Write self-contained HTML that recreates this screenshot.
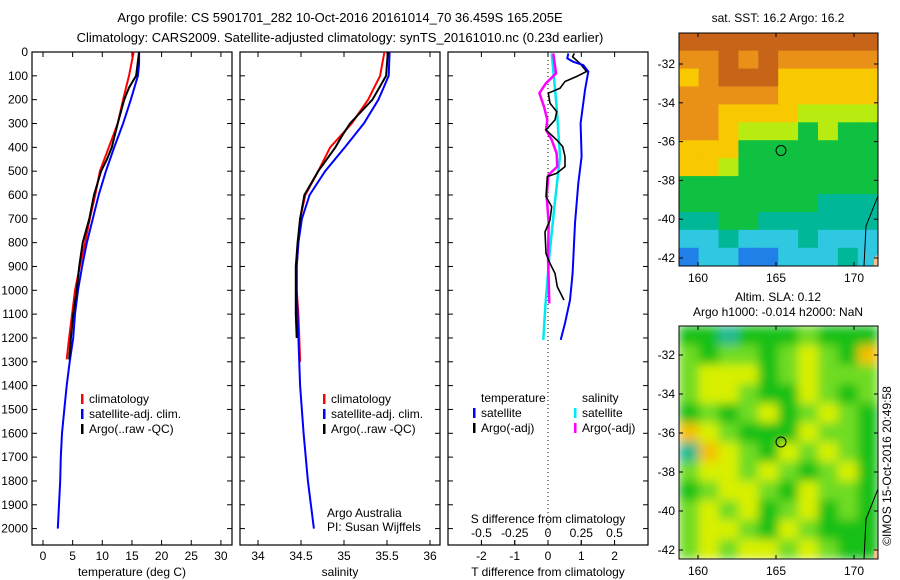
<!DOCTYPE html>
<html><head><meta charset="utf-8"><style>
html,body{margin:0;padding:0;background:#fff;}
svg{display:block;font-family:"Liberation Sans",sans-serif;}
</style></head><body>
<svg id="fig" width="900" height="580" viewBox="0 0 900 580" xmlns="http://www.w3.org/2000/svg">
<defs><filter id="blur" x="0" y="0" width="1" height="1"><feGaussianBlur stdDeviation="5"/></filter>
<clipPath id="c2"><rect x="679" y="326" width="199" height="233"/></clipPath></defs>
<text x="340" y="22" font-size="13" text-anchor="middle">Argo profile: CS 5901701_282 10-Oct-2016 20161014_70 36.459S 165.205E</text>
<text x="340" y="42" font-size="13" text-anchor="middle">Climatology: CARS2009. Satellite-adjusted climatology: synTS_20161010.nc (0.23d earlier)</text>
<g id="g"></g>
</svg>
<script>
// ---- data ----
const tClimD=[0,100,150,200,300,400,500,600,700,800,900,1000,1100,1200,1290];
const tClimV=[15.3,14.5,14.0,13.5,12.6,11.1,9.6,8.8,7.9,7.1,6.2,5.4,4.9,4.4,4.0];
const tArgoD=[0,100,150,200,300,400,450,500,600,700,800,900,1000,1100,1200,1290];
const tArgoV=[16.2,15.7,14.5,13.7,12.6,11.6,10.8,9.8,8.6,7.8,6.7,6.1,5.7,5.1,4.7,4.4];
const tSatD=[0,50,100,200,300,400,500,600,700,800,900,1000,1100,1200,1300,1400,1500,1600,1700,1800,1900,2000];
const tSatV=[16.2,16.2,16.0,14.8,13.5,12.0,10.6,9.4,8.4,7.4,6.6,5.9,5.4,5.1,4.5,4.0,3.6,3.2,3.0,2.9,2.7,2.5];
const sClimD=[0,100,200,300,400,500,600,700,800,900,1000,1100,1200,1300];
const sClimV=[35.47,35.42,35.28,35.09,34.84,34.70,34.55,34.49,34.47,34.45,34.45,34.47,34.48,34.49];
const sArgoD=[0,100,200,300,350,400,500,600,700,800,900,1000,1100,1200];
const sArgoV=[35.51,35.49,35.33,35.07,34.98,34.90,34.70,34.54,34.49,34.46,34.44,34.44,34.44,34.45];
const sSatD=[0,100,200,300,400,500,600,700,800,900,1000,1200,1400,1600,1800,2000];
const sSatV=[35.53,35.52,35.40,35.23,35.01,34.78,34.60,34.51,34.47,34.45,34.45,34.47,34.49,34.53,34.58,34.65];
const dTArgoD=[6,20,48,82,103,124,152,173,215,250,285,327,369,397,439,481,509,523,607,649,705,755,845,887,929,985,1041];
const dTArgoV=[0.79,0.74,0.96,1.16,0.86,0.51,0.36,0.01,0.06,0.26,0.21,-0.06,0.26,0.44,0.51,0.51,0.26,-0.02,-0.06,0.11,0.06,-0.09,-0.06,0.06,0.21,0.28,0.48];
const dTSatD=[6,27,41,55,82,160,299,439,551,719,929,1041,1138,1208];
const dTSatV=[0.61,0.58,0.76,1.06,1.21,1.11,0.98,1.01,0.91,0.81,0.74,0.66,0.51,0.38];
const dSArgoD=[6,90,131,173,229,285,327,369,425,481,516,607,719,859,1055];
const dSArgoV=[0.040,0.060,-0.015,-0.065,-0.03,-0.005,-0.015,0.028,0.065,0.07,0.003,-0.01,0.005,0,0.01];
const dSSatD=[6,229,439,649,859,1069,1208];
const dSSatV=[0.028,0.065,0.09,0.048,0.01,-0.02,-0.035];
const depthTicks=[0,100,200,300,400,500,600,700,800,900,1000,1100,1200,1300,1400,1500,1600,1700,1800,1900,2000];
const tTicks=[0,5,10,15,20,25,30];
const sTicks=[34,34.5,35,35.5,36];
const sTickLabels=['34','34.5','35','35.5','36'];
const dtTicks=[-2,-1,0,1,2];
const dsTicks=[-0.5,-0.25,0,0.25,0.5];
const dsTickLabels=['-0.5','-0.25','0','0.25','0.5'];
// ---- scales ----
const TOP=52,BOT=545;
const yD=d=>52+d*0.2383;
const xT=v=>43+v*5.93;
const xS=v=>258+(v-34)*86;
const xDT=v=>548+v*33.3;
const xDS=v=>548+v*133;
const NS='http://www.w3.org/2000/svg';
const G=document.getElementById('g');
function mk(tag,attrs,parent){const e=document.createElementNS(NS,tag);for(const k in attrs)e.setAttribute(k,attrs[k]);(parent||G).appendChild(e);return e;}
function txt(x,y,s,size,anchor,name){const e=mk('text',{x:x,y:y,'font-size':size,'text-anchor':anchor});e.textContent=s;


return e;}
function line(xs,ys,color,w,name){const pts=xs.map((x,i)=>x.toFixed(1)+','+ys[i].toFixed(1)).join(' ');
const e=mk('polyline',{points:pts,fill:'none',stroke:color,'stroke-width':w,'stroke-linejoin':'miter'});

}
function panel(x0,x1,name,xticks,xf){
 const r=mk('rect',{x:x0,y:TOP,width:x1-x0,height:BOT-TOP,fill:'none',stroke:'#000','stroke-width':1.2});
 
 
 depthTicks.forEach(d=>{const y=yD(d);mk('line',{x1:x0,x2:x0+5,y1:y,y2:y,stroke:'#000'});mk('line',{x1:x1-5,x2:x1,y1:y,y2:y,stroke:'#000'});});
 xticks.forEach(v=>{const x=xf(v);mk('line',{x1:x,x2:x,y1:TOP,y2:TOP+5,stroke:'#000'});mk('line',{x1:x,x2:x,y1:BOT-5,y2:BOT,stroke:'#000'});});
}
// panel 1
panel(32,232,'temperature-panel',tTicks,xT);
depthTicks.forEach(d=>txt(28,yD(d)+4,String(d),12,'end','depth-tick-label'));
tTicks.forEach(v=>txt(xT(v),560,String(v),12,'middle','temperature-tick-label'));
txt(132,576,'temperature (deg C)',12,'middle','temperature-axis-title');
line(tClimV.map(xT),tClimD.map(yD),'#f00',2,'temperature-climatology-line');
line(tSatV.map(xT),tSatD.map(yD),'#00f',2,'temperature-satellite-line');
line(tArgoV.map(xT),tArgoD.map(yD),'#000',2,'temperature-argo-line');
// panel 2
panel(240,440,'salinity-panel',sTicks,xS);
sTicks.forEach((v,i)=>txt(xS(v),560,sTickLabels[i],12,'middle','salinity-tick-label'));
txt(340,576,'salinity',12,'middle','salinity-axis-title');
line(sClimV.map(xS),sClimD.map(yD),'#f00',2,'salinity-climatology-line');
line(sSatV.map(xS),sSatD.map(yD),'#00f',2,'salinity-satellite-line');
line(sArgoV.map(xS),sArgoD.map(yD),'#000',2,'salinity-argo-line');
// legends
function legend(x,y,items,prefix){items.forEach((it,i)=>{mk('rect',{x:x,y:y+i*15-9,width:2.5,height:10,fill:it[1]});txt(x+8,y+i*15,it[0],12,'start',prefix+'-legend-entry');});}
legend(81,403,[['climatology','#f00'],['satellite-adj. clim.','#00f'],['Argo(..raw -QC)','#000']],'temperature');
legend(323,403,[['climatology','#f00'],['satellite-adj. clim.','#00f'],['Argo(..raw -QC)','#000']],'salinity');
txt(327,517,'Argo Australia',12,'start','institution-label');
txt(327,531,'PI: Susan Wijffels',12,'start','pi-label');
// panel 3
panel(448,648,'difference-panel',dtTicks,xDT);
mk('line',{x1:548,x2:548,y1:TOP,y2:BOT,stroke:'#000','stroke-dasharray':'1,3'});
dtTicks.forEach(v=>txt(xDT(v),560,String(v),12,'middle','t-difference-tick-label'));
txt(548,576,'T difference from climatology',12,'middle','t-difference-axis-title');
dsTicks.forEach((v,i)=>{mk('line',{x1:xDS(v),x2:xDS(v),y1:BOT-5,y2:BOT,stroke:'#000'});txt(xDS(v),537,dsTickLabels[i],12,'middle','s-difference-tick-label');});
txt(548,523,'S difference from climatology',12,'middle','s-difference-axis-title');
line(dSSatV.map(xDS),dSSatD.map(yD),'#00e8f0',2.5,'s-difference-satellite-line');
line(dSArgoV.map(xDS),dSArgoD.map(yD),'#f0f',2.5,'s-difference-argo-line');
line(dTArgoV.map(xDT),dTArgoD.map(yD),'#000',1.6,'t-difference-argo-line');
line(dTSatV.map(xDT),dTSatD.map(yD),'#00f',2,'t-difference-satellite-line');
txt(481,402,'temperature',12,'start','diff-legend-temperature-header');
txt(582,402,'salinity',12,'start','diff-legend-salinity-header');
legend(473,417,[['satellite','#00f'],['Argo(-adj)','#000']],'t-difference');
legend(574,417,[['satellite','#00e8f0'],['Argo(-adj)','#f0f']],'s-difference');
// ---- maps ----
const map1Rows=["DDDDDDDDDD","OODODOOOOO","YODDDYYYYY","OOOOOYYYYY","OOYYYYLLLL","OOYLLLGLGG","YYYGGGGGGG","YYLGGGGGGG","GGGGGGGGGG","GGGGGGGTTT","TTGGTTTTTT","CCTCCCTCCC","BCCBBCCCTC"];
const map1Col={D:'#c86418',O:'#e89018',Y:'#f8c800',L:'#b8ec10',G:'#10c040',T:'#00b898',C:'#30c8e0',B:'#2080e8'};
const map2Rows=["GGTGGGgGGG","gGggGgYgGO","gYYYGgYggg","gYYgGGYgGg","GgGgYGgYgG","OYgGGGYggG","TOYgGYgYgG","gYYgYgGgYG","GgYYgGYggG","gYgYGgYGgG","gYYgGYgGGG","gYgYYgYgGG"];
const map2Col={G:'#18c018',g:'#70dc20',Y:'#d8f000',O:'#f4c000',T:'#20b890'};
const lats=[-32,-34,-36,-38,-40,-42];
const lons=[160,165,170];
function lonX(v){return 698+(v-160)*15.6;}
function drawMap(y0,y1,rows,cols,blur,name,latY0,latY1){
 const x0=679,x1=878,nr=rows.length,nc=rows[0].length,cw=(x1-x0)/nc,ch=(y1-y0)/nr;
 const g=mk('g',blur?{filter:'url(#blur)','clip-path':'url(#c2)'}:{});
 
 
 rows.forEach((r,i)=>{for(let j=0;j<nc;j++)mk('rect',{x:x0+j*cw-0.3,y:y0+i*ch-0.3,width:cw+0.6,height:ch+0.6,fill:cols[r[j]]},g);});
 mk('path',{d:`M${x1} ${y1-70} L${x1-12} ${y1-40} L${x1-14} ${y1}`,fill:'none',stroke:'#000','stroke-width':1});
 mk('path',{d:`M${x1} ${y1-12} L${x1-4} ${y1-8} L${x1-4} ${y1} L${x1} ${y1}Z`,fill:'#f8c090'});
 const fr=mk('rect',{x:x0,y:y0,width:x1-x0,height:y1-y0,fill:'none',stroke:'#000','stroke-width':1});
 
 
 const ly=v=>latY0+(v+32)/(-10)*(latY1-latY0);
 lats.forEach(v=>{const y=ly(v);mk('line',{x1:x0,x2:x0+4,y1:y,y2:y,stroke:'#000'});mk('line',{x1:x1-4,x2:x1,y1:y,y2:y,stroke:'#000'});txt(x0-4,y+4,String(v),12,'end',name+'-lat-label');});
 lons.forEach(v=>{const x=lonX(v);mk('line',{x1:x,x2:x,y1:y0,y2:y0+4,stroke:'#000'});mk('line',{x1:x,x2:x,y1:y1-4,y2:y1,stroke:'#000'});txt(x,y1+16,String(v),12,'middle',name+'-lon-label');});
 const c=mk('circle',{cx:781,cy:ly(-36.46),r:5,fill:'none',stroke:'#000','stroke-width':1});
 
 
}
drawMap(33,266,map1Rows,map1Col,false,'sst-map',64,258);
drawMap(326,559,map2Rows,map2Col,true,'sla-map',355,550);
txt(778,22,'sat. SST: 16.2 Argo: 16.2',12,'middle','sst-map-title');
txt(778,301,'Altim. SLA: 0.12',12,'middle','sla-map-title');
txt(778,316,'Argo h1000: -0.014 h2000: NaN',12,'middle','sla-map-subtitle');
const cr=txt(0,0,'©IMOS 15-Oct-2016 20:49:58',12,'middle','imos-timestamp');
cr.setAttribute('transform','translate(891,466) rotate(-90)');
</script>
</body></html>
